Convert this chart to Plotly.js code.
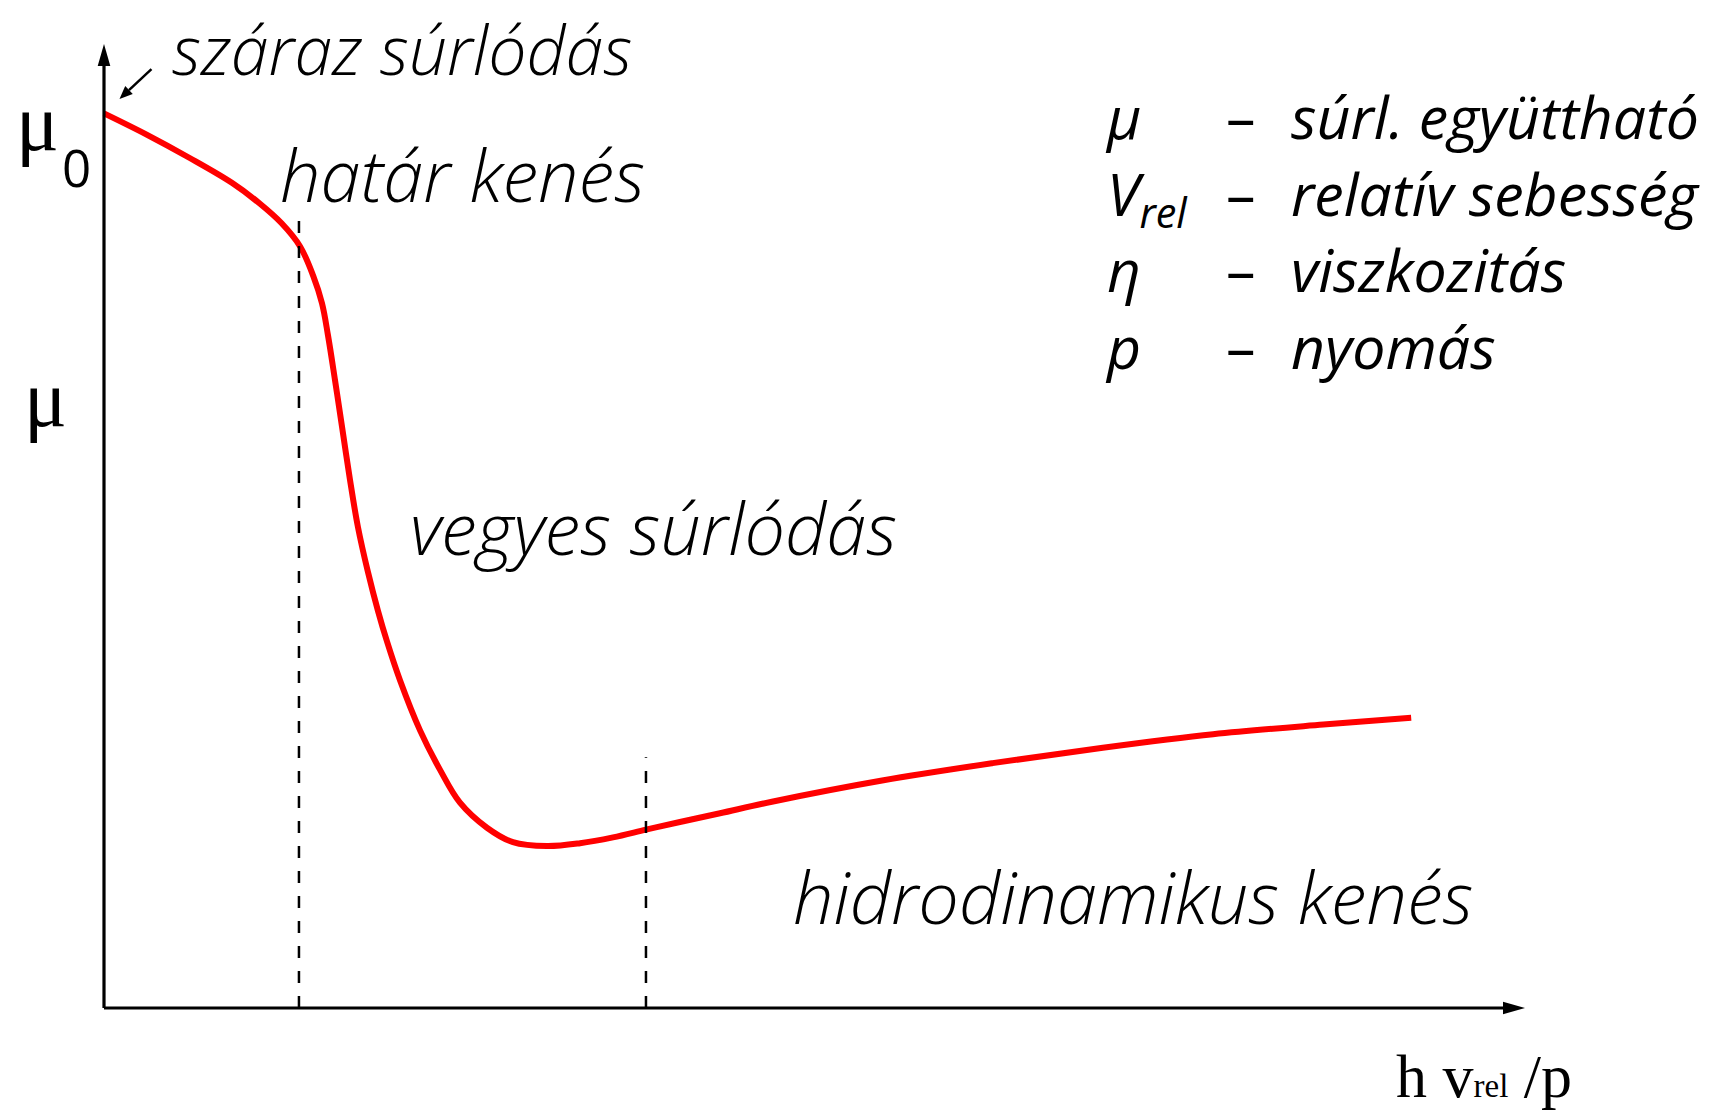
<!DOCTYPE html>
<html>
<head>
<meta charset="utf-8">
<script src="https://cdn.plot.ly/plotly-3.0.1.min.js"></script>
<style>html,body{margin:0;padding:0;background:#fff;}#chart{width:1729px;height:1114px;}</style>
</head>
<body>
<div id="chart"></div>
<script>
// Stribeck curve (relative units)
const speedRatio = [0, 0.3, 0.6, 0.9, 1.1, 1.25, 1.38, 1.471, 1.534, 1.576, 1.626, 1.675, 1.731, 1.787, 1.858, 1.928, 1.992, 2.083, 2.224, 2.365, 2.505, 2.695, 2.878, 3.118, 3.350, 3.582, 3.814, 4.053, 4.335, 4.700, 5.476, 6.253, 7.029, 7.805, 8.581, 9.199];
const frictionCoef = [0.928, 0.906, 0.882, 0.856, 0.834, 0.814, 0.790, 0.760, 0.731, 0.698, 0.651, 0.603, 0.548, 0.499, 0.452, 0.412, 0.380, 0.340, 0.288, 0.247, 0.213, 0.187, 0.172, 0.168, 0.171, 0.177, 0.185, 0.193, 0.202, 0.214, 0.236, 0.254, 0.270, 0.284, 0.294, 0.301];
const boundaryX = [1.372, 3.814];
const boundaryTop = [0.830, 0.260];
const regionLabels = ["száraz súrlódás", "határ kenés", "vegyes súrlódás", "hidrodinamikus kenés"];
const legendSymbols = ["μ", "V<sub>rel</sub>", "η", "p"];
const legendTexts = ["súrl. együttható", "relatív sebesség", "viszkozitás", "nyomás"];
const axisEnd = {x: 10, y: 1};

const sans = "'Open Sans', Lato, 'Noto Sans', sans-serif";
const serif = "'Liberation Serif', 'DejaVu Serif', serif";

// plot geometry: data x 0..10 spans 104..1525 px, data y 0..1 spans 1008..44 px
const M = {l: 30, r: 130, t: 20, b: 60};
const W = 1729, H = 1114;
const XPU = 142.1, YPU = 964, X0 = 104, Y0 = 1008;
const xr = [(M.l - X0) / XPU, (W - M.r - X0) / XPU];
const yr = [(Y0 - (H - M.b)) / YPU, (Y0 - M.t) / YPU];
const px = v => (v - xr[0]) / (xr[1] - xr[0]);
const py = v => (v - yr[0]) / (yr[1] - yr[0]);

const traces = [{
  x: speedRatio, y: frictionCoef, type: 'scatter', mode: 'lines',
  line: {color: '#ff0000', width: 6, shape: 'spline', smoothing: 1},
  hoverinfo: 'skip', showlegend: false
}];
boundaryX.forEach((bx, i) => {
  traces.push({
    x: [bx, bx], y: [0, boundaryTop[i]], type: 'scatter', mode: 'lines',
    line: {color: '#000', width: 2.5, dash: '12px,13px'}, hoverinfo: 'skip', showlegend: false
  });
});

const annotations = [];
// "száraz súrlódás" sits at the very top edge
annotations.push({x: px(0.463), y: py(Y0 / YPU), xref: 'paper', yref: 'paper', text: '<i>' + regionLabels[0] + '</i>',
  showarrow: false, xanchor: 'left', yanchor: 'top', font: {family: sans, size: 68, color: '#000', weight: 300}});
const regionPos = [null, [1.223, 0.865], [2.138, 0.4994], [4.833, 0.1162]];
for (let i = 1; i < regionLabels.length; i++) {
  annotations.push({x: px(regionPos[i][0]), y: py(regionPos[i][1]), xref: 'paper', yref: 'paper', text: '<i>' + regionLabels[i] + '</i>',
    showarrow: false, xanchor: 'left', yanchor: 'middle',
    font: {family: sans, size: 72, color: '#000', weight: 300}});
}
// legend block: three left-aligned columns, one line per row
const legendMidY = 0.8065;
const colX = [7.03, 7.88, 8.34];
const legendCols = [
  legendSymbols.map(s => '<i>' + s + '</i>').join('<br>'),
  legendSymbols.map(() => '–').join('<br>'),
  legendTexts.map(t => '<i>' + t + '</i>').join('<br>')
];
legendCols.forEach((txt, c) => {
  annotations.push({x: px(colX[c]), y: py(legendMidY), xref: 'paper', yref: 'paper', text: txt, showarrow: false,
    xanchor: 'left', yanchor: 'middle', align: 'left', font: {family: sans, size: 59, color: '#000'}});
});
// mu0 and mu axis labels
annotations.push({x: px(-0.630), y: py(0.918), xref: 'paper', yref: 'paper', text: 'μ', showarrow: false, xanchor: 'left', yanchor: 'middle',
  font: {family: serif, size: 80, color: '#000'}});
annotations.push({x: px(-0.31), y: py(0.872), xref: 'paper', yref: 'paper', text: '0', showarrow: false, xanchor: 'left', yanchor: 'middle',
  font: {family: sans, size: 51, color: '#000'}});
annotations.push({x: px(-0.575), y: py(0.632), xref: 'paper', yref: 'paper', text: 'μ', showarrow: false, xanchor: 'left', yanchor: 'middle',
  font: {family: serif, size: 80, color: '#000'}});
// x axis label
annotations.push({x: px(9.076), y: py((Y0 - 1112) / YPU), xref: 'paper', yref: 'paper', text: 'h v<span style="font-size:33px">rel</span> /p', showarrow: false,
  xanchor: 'left', yanchor: 'bottom', font: {family: serif, size: 62, color: '#000'}});

// pointer arrow (dry friction) built from tail/tip in data units
const ptrTail = {x: 0.334, y: 0.974}, ptrTip = {x: 0.109, y: 0.943};
const dxp = (ptrTip.x - ptrTail.x) * XPU, dyp = (ptrTip.y - ptrTail.y) * YPU;
const len = Math.hypot(dxp, dyp), ux = dxp / len, uy = dyp / len;
const headL = 13, headW = 5.5;
const bx = ptrTip.x - ux * headL / XPU, by = ptrTip.y - uy * headL / YPU;
const c1 = {x: bx + (-uy) * headW / XPU, y: by + ux * headW / YPU};
const c2 = {x: bx - (-uy) * headW / XPU, y: by - ux * headW / YPU};

const hx = 22 / XPU, hy = 6.3 / YPU;   // x-axis arrowhead (length, half width)
const vy = 22 / YPU, vx = 6.3 / XPU;   // y-axis arrowhead
const shapes = [
  {type: 'line', xref: 'x', yref: 'y', x0: 0, y0: 0, x1: axisEnd.x - hx * 0.6, y1: 0, line: {color: '#000', width: 3.2}},
  {type: 'line', xref: 'x', yref: 'y', x0: 0, y0: 0, x1: 0, y1: axisEnd.y - vy * 0.6, line: {color: '#000', width: 3.2}},
  {type: 'path', xref: 'x', yref: 'y', fillcolor: '#000', line: {width: 0},
    path: `M${axisEnd.x},0 L${axisEnd.x - hx},${hy} L${axisEnd.x - hx},${-hy} Z`},
  {type: 'path', xref: 'x', yref: 'y', fillcolor: '#000', line: {width: 0},
    path: `M0,${axisEnd.y} L${-vx},${axisEnd.y - vy} L${vx},${axisEnd.y - vy} Z`},
  {type: 'line', xref: 'x', yref: 'y', x0: ptrTail.x, y0: ptrTail.y, x1: bx, y1: by, line: {color: '#000', width: 2.5}},
  {type: 'path', xref: 'x', yref: 'y', fillcolor: '#000', line: {width: 0},
    path: `M${ptrTip.x},${ptrTip.y} L${c1.x},${c1.y} L${c2.x},${c2.y} Z`}
];

const layout = {
  width: W, height: H,
  margin: M,
  paper_bgcolor: '#fff', plot_bgcolor: '#fff',
  xaxis: {range: xr, visible: false, fixedrange: true},
  yaxis: {range: yr, visible: false, fixedrange: true},
  showlegend: false,
  annotations: annotations,
  shapes: shapes
};

Plotly.newPlot('chart', traces, layout, {staticPlot: true});
</script>
</body>
</html>
